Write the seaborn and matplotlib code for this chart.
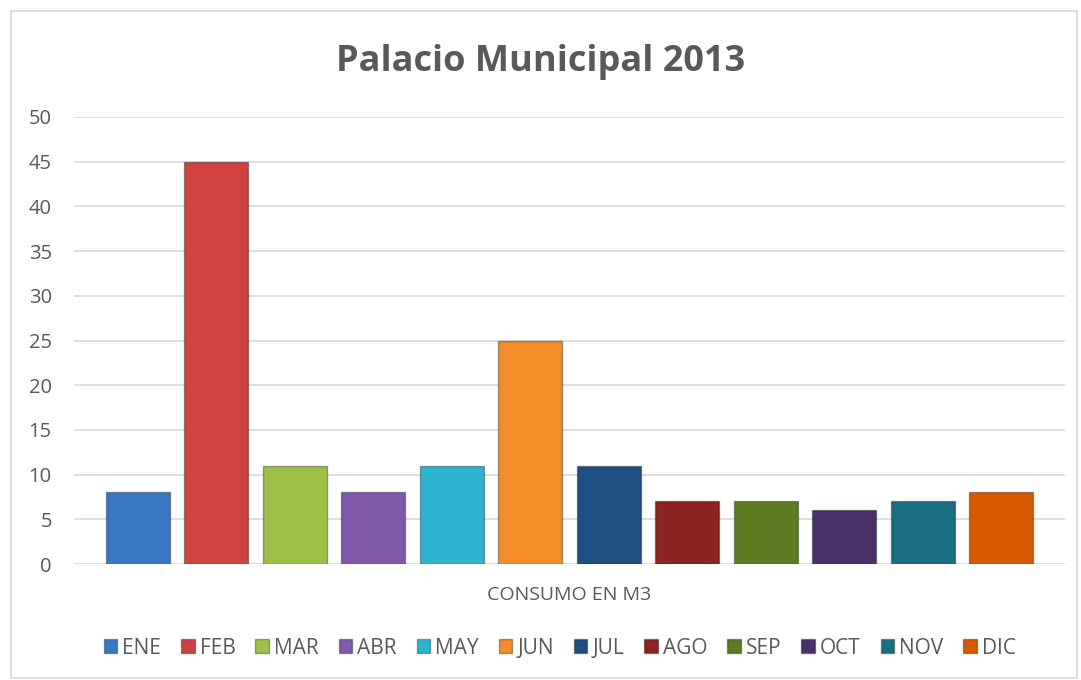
import matplotlib
matplotlib.use("Agg")
import matplotlib.pyplot as plt
import seaborn as sns
import pandas as pd
from matplotlib.patches import Patch, Rectangle

months = ["ENE", "FEB", "MAR", "ABR", "MAY", "JUN", "JUL", "AGO", "SEP", "OCT", "NOV", "DIC"]
values = [8, 45, 11, 8, 11, 25, 11, 7, 7, 6, 7, 8]
colors = ["#3A78C4", "#D04242", "#9CC048", "#8058AC", "#2EB4CE", "#F48C2A",
          "#1F4E82", "#8C2222", "#5E7C22", "#4A3068", "#1B6E82", "#D85A00"]
title = "Palacio Municipal 2013"
xlabel = "CONSUMO EN M3"
yticks = list(range(0, 51, 5))

sns.set_theme(style="white")
plt.rcParams["font.family"] = ["Open Sans", "DejaVu Sans"]

df = pd.DataFrame({"mes": months, "valor": values})

fig = plt.figure(figsize=(10.81, 6.8), dpi=100)
ax = fig.add_axes([74/1081, 1-564/680, (1065-74)/1081, (564-117)/680])

sns.barplot(data=df, x="mes", y="valor", hue="mes", palette=colors, width=0.815,
            saturation=1, legend=False, ax=ax, edgecolor="#00000055", linewidth=1.0,
            zorder=3)

ax.set_xlim(-0.815, 11.815)
ax.set_ylim(0, 50)
ax.set_yticks(yticks)
ax.set_xticks([])
ax.grid(axis="y", color="#D9D9D9", linewidth=1.2, zorder=0)
ax.set_axisbelow(True)
for s in ax.spines.values():
    s.set_visible(False)
ax.tick_params(axis="y", length=0, labelsize=14.5, labelcolor="#595959", pad=16)
ax.set_ylabel("")
ax.set_xlabel(xlabel, fontsize=14, color="#595959", labelpad=16)

fig.text(0.5, 1-62/680, title, ha="center", va="center", fontsize=26,
         fontweight="bold", color="#595959")

handles = [Patch(facecolor=c, edgecolor="#00000055", label=m) for m, c in zip(months, colors)]
fig.legend(handles=handles, loc="center", bbox_to_anchor=(0.518, 1-648/680), ncol=12,
           frameon=False, fontsize=15, handlelength=0.65, handleheight=0.65,
           handletextpad=0.25, columnspacing=0.95, labelcolor="#595959")

fig.patches.append(Rectangle((11/1081, 2/680), (1077-11)/1081, (669-2)/680,
                             transform=fig.transFigure, fill=False,
                             edgecolor="#D9D9D9", linewidth=1.2))

fig.savefig("out.png", dpi=100)
